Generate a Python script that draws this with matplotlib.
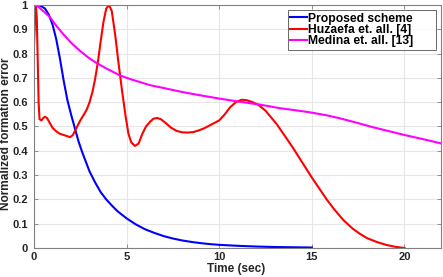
import matplotlib
matplotlib.use("Agg")
import matplotlib.pyplot as plt

# datos (tiempo en s, error normalizado)
t_propuesto = [0.0, 0.08, 0.2, 0.4, 0.6, 0.8, 1.0, 1.2, 1.4, 1.6, 1.8, 2.0, 2.2, 2.4,
               2.6, 2.8, 3.0, 3.3, 3.6, 3.9, 4.2, 4.5, 5.0, 5.5, 6.0, 6.5, 7.0, 7.5,
               8.0, 8.5, 9.0, 9.5, 10.0, 11.0, 12.0, 13.0, 14.0, 15.0]
e_propuesto = [0.95, 0.99, 1.0, 0.995, 0.985, 0.96, 0.92, 0.86, 0.78, 0.69, 0.61, 0.55,
               0.495, 0.44, 0.395, 0.355, 0.315, 0.27, 0.23, 0.2, 0.175, 0.152, 0.122,
               0.097, 0.077, 0.062, 0.049, 0.039, 0.031, 0.025, 0.02, 0.016, 0.013,
               0.009, 0.006, 0.004, 0.003, 0.002]

t_huzaefa = [0.0, 0.05, 0.1, 0.15, 0.2, 0.25, 0.3, 0.4, 0.5, 0.6, 0.7, 0.85, 1.0, 1.2,
             1.4, 1.6, 1.8, 1.95, 2.1, 2.3, 2.5, 2.7, 2.85, 3.0, 3.15, 3.3, 3.46, 3.6,
             3.75, 3.9, 4.05, 4.2, 4.38, 4.55, 4.75, 4.95, 5.1, 5.25, 5.45, 5.65, 5.85,
             6.05, 6.27, 6.45, 6.65, 6.85, 7.1, 7.4, 7.7, 8.0, 8.3, 8.6, 8.9, 9.2, 9.5,
             9.8, 10.0, 10.3, 10.6, 10.9, 11.2, 11.5, 11.8, 12.1, 12.5, 13.1, 13.6,
             14.0, 14.5, 15.0, 15.4, 15.8, 16.2, 16.7, 17.2, 17.6, 18.0, 18.5, 19.0,
             19.5, 20.0]
e_huzaefa = [0.83, 0.93, 1.0, 0.95, 0.78, 0.6, 0.53, 0.525, 0.535, 0.54, 0.535, 0.515,
             0.495, 0.48, 0.47, 0.465, 0.46, 0.456, 0.465, 0.495, 0.525, 0.55, 0.57, 0.6,
             0.64, 0.695, 0.77, 0.85, 0.93, 0.985, 1.0, 0.975, 0.88, 0.77, 0.65, 0.54,
             0.47, 0.435, 0.42, 0.43, 0.47, 0.5, 0.52, 0.532, 0.535, 0.53, 0.515, 0.495,
             0.482, 0.476, 0.475, 0.477, 0.484, 0.493, 0.505, 0.517, 0.525, 0.55, 0.58,
             0.6, 0.61, 0.608, 0.6, 0.59, 0.565, 0.51, 0.455, 0.41, 0.35, 0.29, 0.245,
             0.2, 0.16, 0.115, 0.08, 0.058, 0.04, 0.025, 0.013, 0.005, 0.0]

t_medina = [0.0, 0.2, 0.5, 0.86, 1.2, 1.58, 2.0, 2.5, 3.0, 3.4, 4.0, 4.65, 5.2, 6.27,
            7.2, 8.0, 9.0, 10.0, 11.0, 12.2, 13.3, 14.2, 15.0, 15.8, 16.5, 17.4, 18.3,
            19.2, 20.0, 21.0, 22.0]
e_medina = [1.0, 0.995, 0.975, 0.95, 0.915, 0.88, 0.845, 0.81, 0.78, 0.76, 0.735, 0.71,
            0.695, 0.67, 0.655, 0.642, 0.628, 0.615, 0.603, 0.59, 0.575, 0.566, 0.557,
            0.546, 0.534, 0.516, 0.497, 0.48, 0.465, 0.448, 0.43]

etiquetas = ["Proposed scheme", "Huzaefa et. all. [4]", "Medina et. all. [13]"]
colores = ["#0000ff", "#ff0000", "#ff00ff"]

plt.rcParams["font.family"] = ["Liberation Sans", "DejaVu Sans"]
plt.rcParams["font.weight"] = "bold"

fig = plt.figure(figsize=(4.43, 2.77), dpi=100)
ax = fig.add_axes([0.0767, 0.1047, 0.9199, 0.8773])

ax.plot(t_propuesto, e_propuesto, color=colores[0], lw=1.5, label=etiquetas[0])
ax.plot(t_huzaefa, e_huzaefa, color=colores[1], lw=1.5, label=etiquetas[1])
ax.plot(t_medina, e_medina, color=colores[2], lw=1.5, label=etiquetas[2])

ax.set_xlim(0, 22)
ax.set_ylim(0, 1)
ax.set_xticks([0, 5, 10, 15, 20])
ax.set_yticks([i / 10 for i in range(11)])
ax.set_yticklabels(["0", "0.1", "0.2", "0.3", "0.4", "0.5", "0.6", "0.7", "0.8", "0.9", "1"])

# estilo tipo MATLAB
ax.grid(True, color="#e6e6e6", lw=0.8)
ax.set_axisbelow(True)
for s in ax.spines.values():
    s.set_color("#808080")
    s.set_linewidth(0.8)
ax.tick_params(direction="in", top=True, right=True, length=3, width=0.6,
               color="#808080", labelsize=8, labelcolor="#262626")
ax.tick_params(axis="y", pad=4.5)
ax.tick_params(axis="x", pad=3.2)

ax.set_xlabel("Time (sec)", fontsize=8.5, fontweight="bold", color="#262626")
ax.set_ylabel("Normalized formation error", fontsize=8.6, fontweight="bold", color="#262626")
ax.xaxis.set_label_coords(0.496, -0.063)
ax.yaxis.set_label_coords(-0.055, 0.469)

# leyenda con margen derecho amplio como en MATLAB
leg = ax.legend(loc="upper left", bbox_to_anchor=(0.623, 0.5, 0.364, 0.479), mode="expand",
                fontsize=8.7, frameon=True, fancybox=False, borderaxespad=0,
                handlelength=1.4, handletextpad=0.1, labelspacing=-0.05, borderpad=0.2)
leg.get_frame().set_edgecolor("#262626")
leg.get_frame().set_linewidth(0.6)

fig.savefig("out.png", dpi=100)
